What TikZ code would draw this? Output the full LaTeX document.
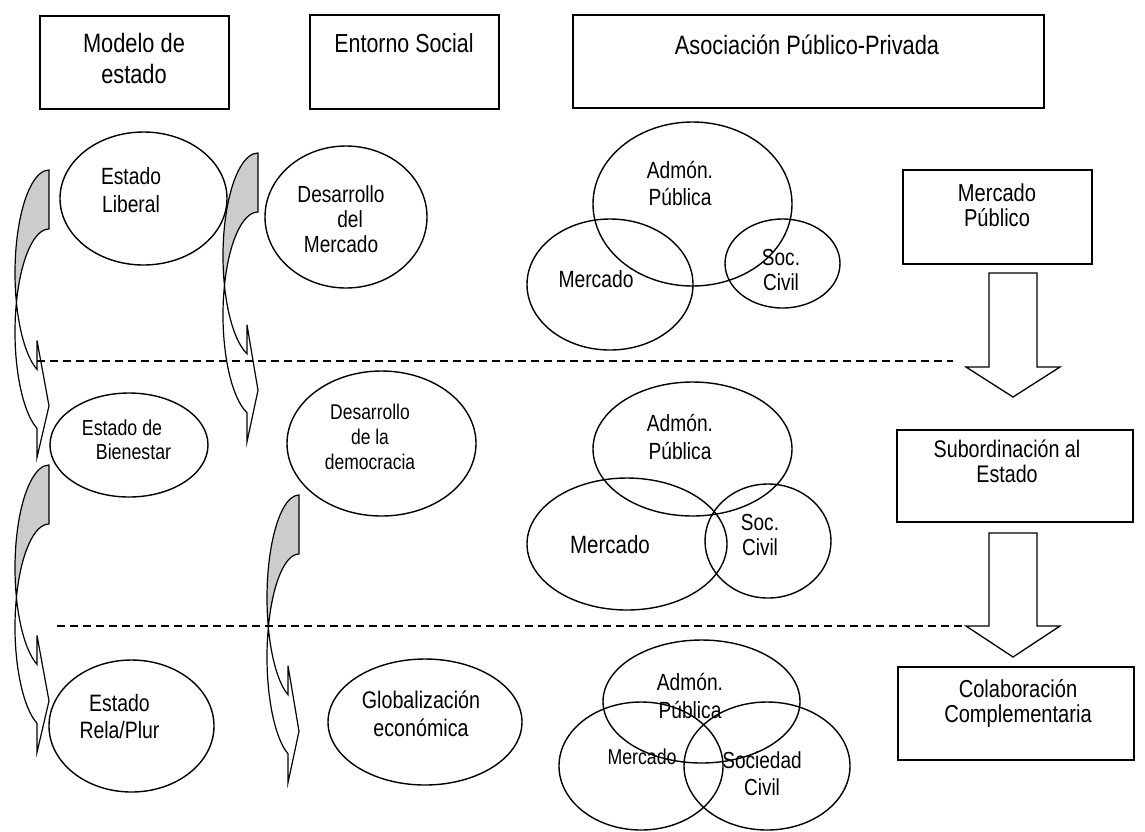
\documentclass[tikz,border=0pt]{standalone}
\usepackage{fontspec}
\setmainfont[FakeStretch=0.82]{Liberation Sans}
\usetikzlibrary{shapes.geometric}
\tikzset{
  boxst/.style={draw, line width=1.4pt, rectangle, inner sep=0pt},
  ell/.style={draw, line width=1.4pt, ellipse, inner sep=0pt},
  lbl/.style={align=center, inner sep=0pt},
  dashln/.style={line width=1.3pt, dash pattern=on 8pt off 5pt},
  arrback/.style={draw, line width=1.2pt, fill=gray!40, line join=miter},
  arrfront/.style={draw, line width=1.2pt, fill=white, line join=miter},
  blockarr/.style={draw, line width=1.3pt, fill=white, line join=miter},
}
\newcommand{\fs}[2]{\fontsize{#1}{#2}\selectfont}
% curved arrow: #1 right x, #2 top y, #3 width, #4 head length
\newcommand{\cvarrow}[4]{%
  \pgfmathsetmacro{\cRy}{103}%
  \pgfmathsetmacro{\cT}{59}%
  \pgfmathsetmacro{\cA}{asin(\cT/(2*\cRy))}%
  \pgfmathsetmacro{\cB}{acos(#4/#3)}%
  \pgfmathsetmacro{\cCa}{#2+\cRy}%
  \pgfmathsetmacro{\cYin}{\cCa+\cRy*sin(\cB)}%
  \pgfmathsetmacro{\cYout}{\cYin+\cT}%
  \pgfmathsetmacro{\cXc}{#1-#3*cos(\cA)}%
  \pgfmathsetmacro{\cYc}{\cCa+\cT/2}%
  \filldraw[arrback] (#1,#2)
     arc[start angle=90, end angle=180+\cA, x radius=#3pt, y radius=\cRy pt]
     arc[start angle=180-\cA, end angle=90, x radius=#3pt, y radius=\cRy pt] -- cycle;
  \filldraw[arrfront] (\cXc,\cYc)
     arc[start angle=180+\cA, end angle=180+\cB, x radius=#3pt, y radius=\cRy pt]
     -- (#1-#4,\cYin-29) -- (#1,{(\cYin+\cYout)/2+7}) -- (#1-#4,\cYout+29) -- (#1-#4,\cYout)
     arc[start angle=180+\cB, end angle=180-\cA, x radius=#3pt, y radius=\cRy pt] -- cycle;
}
\begin{document}
\begin{tikzpicture}[x=1pt, y=-1pt]
\useasboundingbox (0,0) rectangle (1145,831);

% header boxes
\node[boxst, minimum width=189pt, minimum height=93pt] (b1) at (134.5,62.5) {};
\node[boxst, minimum width=189pt, minimum height=94pt] (b2) at (404.5,62) {};
\node[boxst, minimum width=471pt, minimum height=93pt] (b3) at (808.5,61.5) {};
\node[lbl, font=\fs{26.6}{31}] (t1) at (134,58.5) {Modelo de\\estado};
\node[lbl, font=\fs{26.1}{31}] (t2) at (404,43) {Entorno Social};
\node[lbl, font=\fs{26.6}{31}] (t3) at (807,45) {Asociación Público-Privada};

% right column boxes
\node[boxst, minimum width=189pt, minimum height=94pt] (b4) at (997.5,217) {};
\node[boxst, minimum width=236pt, minimum height=92pt] (b5) at (1015,476) {};
\node[boxst, minimum width=236pt, minimum height=93pt] (b6) at (1016,713.5) {};
\node[lbl, font=\fs{24.5}{25}] (t4) at (997,205.5) {Mercado\\Público};
\node[lbl, font=\fs{24}{25}] (t5) at (1007,461) {Subordinación al\\Estado};
\node[lbl, font=\fs{24.5}{25}] (t6) at (1018,704) {Colaboración\\Complementaria};

% block arrows
\filldraw[blockarr] (989,273) -- (1037,273) -- (1037,367) -- (1060,367) -- (1013,397) -- (966,367) -- (989,367) -- cycle;
\filldraw[blockarr] (989,533) -- (1037,533) -- (1037,626) -- (1060,626) -- (1013,657) -- (966,626) -- (989,626) -- cycle;

% column 1 ellipses
\node[ell, minimum width=167pt, minimum height=133pt] (e1) at (143.5,198.5) {};
\node[ell, minimum width=158pt, minimum height=104pt] (e2) at (129,445) {};
\node[ell, minimum width=165pt, minimum height=132pt] (e3) at (131.5,726) {};
\node[lbl, font=\fs{23.5}{28}] (te1) at (131,190) {Estado\\Liberal};
\node[lbl, font=\fs{21.7}{24}] (te2) at (122,440) {Estado de\\\hspace*{23pt}Bienestar};
\node[lbl, font=\fs{23.7}{27}] (te3) at (119.5,716.5) {Estado\\Rela/Plur};

% column 2 ellipses
\node[ell, minimum width=162pt, minimum height=142pt] (e4) at (346,217) {};
\node[ell, minimum width=189pt, minimum height=145pt] (e5) at (381.5,443.5) {};
\node[ell, minimum width=194pt, minimum height=126pt] (e6) at (425,722) {};
\node[lbl, font=\fs{23.3}{25}] (te4) at (341,219) {Desarrollo\\\hspace*{18pt}del\\Mercado};
\node[lbl, font=\fs{21.3}{25}] (te5) at (370,437) {Desarrollo\\de la\\democracia};
\node[lbl, font=\fs{24}{28}] (te6) at (421,714) {Globalización\\económica};

% Venn 1
\node[ell, minimum width=199pt, minimum height=164pt] (v1a) at (692.5,204) {};
\node[ell, minimum width=166pt, minimum height=131pt] (v1b) at (610,284.5) {};
\node[ell, minimum width=115pt, minimum height=89pt] (v1c) at (782.5,263.5) {};
\node[lbl, font=\fs{23.4}{27}] (tv1a) at (680,183.5) {Admón.\\Pública};
\node[lbl, font=\fs{23.5}{27}] (tv1b) at (596,279) {Mercado};
\node[lbl, font=\fs{23.2}{25}] (tv1c) at (781,270.5) {Soc.\\Civil};

% Venn 2
\node[ell, minimum width=199pt, minimum height=134pt] (v2a) at (692.5,449) {};
\node[ell, minimum width=200pt, minimum height=132pt] (v2b) at (627,544) {};
\node[ell, minimum width=126pt, minimum height=114pt] (v2c) at (768,541) {};
\node[lbl, font=\fs{23.4}{28}] (tv2a) at (680,437) {Admón.\\Pública};
\node[lbl, font=\fs{25}{27}] (tv2b) at (610,545) {Mercado};
\node[lbl, font=\fs{23.2}{25}] (tv2c) at (760,535.5) {Soc.\\Civil};

% Venn 3
\node[ell, minimum width=197pt, minimum height=123pt] (v3a) at (701.5,701.5) {};
\node[ell, minimum width=164pt, minimum height=128pt] (v3b) at (641,766) {};
\node[ell, minimum width=166pt, minimum height=128pt] (v3c) at (767,766) {};
\node[lbl, font=\fs{23.4}{28}] (tv3a) at (690,696) {Admón.\\Pública};
\node[lbl, font=\fs{21.6}{27}] (tv3b) at (642,757) {Mercado};
\node[lbl, font=\fs{23.2}{27}] (tv3c) at (762,773.5) {Sociedad\\Civil};

% curved arrows
\cvarrow{49}{170}{34}{12}
\cvarrow{49}{465}{34}{12}
\cvarrow{258}{153}{35}{11}
\cvarrow{299}{495}{32}{11}

% dashed separators
\draw[dashln] (37,361) -- (953,361);
\draw[dashln] (57,626) -- (963,626);
\end{tikzpicture}
\end{document}
